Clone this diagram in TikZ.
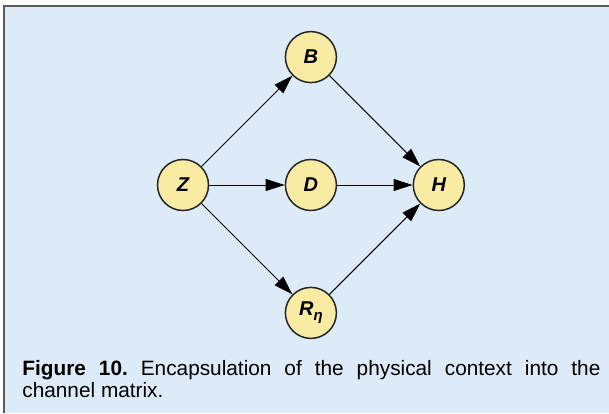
\documentclass[tikz,border=0pt]{standalone}
\usepackage{fontspec}
\setmainfont{Liberation Sans}
\usepackage{xcolor}
\usepackage{tikz}
\usetikzlibrary{
    arrows.meta,
    positioning
}
\definecolor{panelblue}{HTML}{DCEBF7}
\definecolor{nodeyellow}{HTML}{F9EBA2}
\definecolor{framegray}{HTML}{5A5A5A}
\tikzset{
    varnode/.style={
        circle,
        draw=black!85,
        line width=0.75pt,
        fill=nodeyellow,
        minimum size=25.5pt,
        inner sep=0pt,
        font=\fontsize{10}{11}\selectfont\bfseries\itshape
    },
    arrow/.style={
        -{Triangle[length=9.5pt, width=6pt]},
        line width=0.5pt
    },
    caption/.style={
        anchor=base west,
        inner sep=0pt,
        text width=289pt,
        align=justify,
        font=\fontsize{10.4}{11}\selectfont\frenchspacing
    }
}

\begin{document}
\begin{tikzpicture}[node distance=37.7pt]
\useasboundingbox (0,0) rectangle (304.5pt,206.5pt);
\fill[panelblue] (2pt,0) rectangle (304.5pt,203.25pt);
\draw[framegray, line width=1pt] (2pt,0) |- (304.5pt,203.25pt);

\node[varnode] (z) at (91.5pt,114pt) {Z};
\node[varnode, right=of z] (d) {D};
\node[varnode, above=of d] (b) {B};
\node[varnode, below=of d] (r) {R\raisebox{-0.45ex}{\fontsize{7.5}{8}\selectfont η}};
\node[varnode, right=of d] (h) {H};

\draw[arrow] (z) -- (b);
\draw[arrow] (z) -- (d);
\draw[arrow] (z) -- (r);
\draw[arrow] (b) -- (h);
\draw[arrow] (d) -- (h);
\draw[arrow] (r) -- (h);

\node[caption] (cap) at (11pt,19pt) {\textbf{Figure 10.} Encapsulation of the physical context into the\linebreak channel matrix.};
\end{tikzpicture}
\end{document}
